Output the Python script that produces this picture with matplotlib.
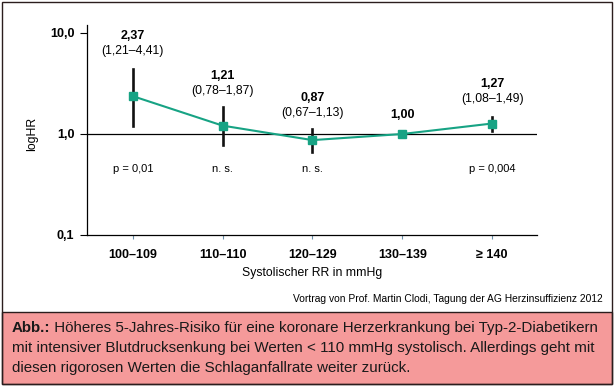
import matplotlib.pyplot as plt
from matplotlib.patches import Rectangle
from matplotlib.text import Annotation

plt.rcParams['font.family'] = ['Liberation Sans', 'DejaVu Sans']

categories = ["100–109", "110–110", "120–129", "130–139", "≥ 140"]
hr = [2.37, 1.21, 0.87, 1.00, 1.27]
ci_low = [1.21, 0.78, 0.67, None, 1.08]
ci_high = [4.41, 1.87, 1.13, None, 1.49]
hr_labels = ["2,37", "1,21", "0,87", "1,00", "1,27"]
ci_labels = ["(1,21–4,41)", "(0,78–1,87)", "(0,67–1,13)", "", "(1,08–1,49)"]
p_labels = ["p = 0,01", "n. s.", "n. s.", "", "p = 0,004"]

teal = "#17a384"

fig = plt.figure(figsize=(6.15, 3.88), dpi=100)
ax = fig.add_axes([87/615, 1 - 235/388, 450/615, 210/388])

x = list(range(len(categories)))
ax.set_yscale("log")
ax.set_ylim(0.1, 12.0)
ax.set_xlim(-0.51, 4.5)

ax.axhline(1.0, color="black", lw=0.9, zorder=1)

# error bars
for i in x:
    if ci_low[i] is not None:
        ax.plot([i, i], [ci_low[i], ci_high[i]], color="#111111", lw=1.9, zorder=2)

ax.plot(x, hr, color=teal, lw=1.5, marker="s", markersize=6.2,
        markerfacecolor=teal, markeredgecolor=teal, zorder=3)

# value labels
for i in x:
    if ci_high[i] is not None:
        top = ci_high[i]
        off = 12 if i in (0, 4) else 10
        ax.annotate(ci_labels[i], (i, top), xytext=(0, off), textcoords="offset pixels",
                    ha="center", va="bottom", fontsize=8.8)
        ax.annotate(hr_labels[i], (i, top), xytext=(0, off + 15), textcoords="offset pixels",
                    ha="center", va="bottom", fontsize=9, fontweight="bold")
    else:
        ax.annotate(hr_labels[i], (i, hr[i]), xytext=(0, 13), textcoords="offset pixels",
                    ha="center", va="bottom", fontsize=9, fontweight="bold")
    if p_labels[i]:
        ax.text(i, 0.45, p_labels[i], ha="center", va="center", fontsize=8)

ax.set_yticks([0.1, 1.0, 10.0])
ax.set_yticklabels(["0,1", "1,0", "10,0"], fontweight="bold", fontsize=9)
ax.yaxis.set_minor_locator(plt.NullLocator())
ax.set_xticks(x)
ax.set_xticklabels(categories, fontweight="bold", fontsize=9)
ax.tick_params(axis="y", length=5, width=0.8, pad=4)
ax.tick_params(axis="x", length=3, width=0.8, pad=7, color="#6b8fa8")

for s in ["top", "right"]:
    ax.spines[s].set_visible(False)
for s in ["left", "bottom"]:
    ax.spines[s].set_linewidth(0.9)

ax.set_xlabel("Systolischer RR in mmHg", fontsize=8.8, va="center")
ax.xaxis.set_label_coords(0.5, (235 - 273) / 210)
ax.set_ylabel("logHR", fontsize=8.8, va="center")
ax.yaxis.set_label_coords((32 - 87) / 450, (235 - 134) / 210)

fig.text(603/615, 1 - 299/388, "Vortrag von Prof. Martin Clodi, Tagung der AG Herzinsuffizienz 2012",
         ha="right", va="center", fontsize=7.4)

# caption box and outer frame
fig.patches.append(Rectangle((2/615, 1 - 384/388), 610/615, 72/388, transform=fig.transFigure,
                             facecolor="#f59a9a", edgecolor="#2b1d1d", lw=1.0, zorder=-2))
fig.patches.append(Rectangle((2/615, 1 - 384/388), 610/615, 382/388, transform=fig.transFigure,
                             facecolor="none", edgecolor="#2b1d1d", lw=1.0, zorder=-1))

caption = [
    "Höheres 5-Jahres-Risiko für eine koronare Herzerkrankung bei Typ-2-Diabetikern",
    "mit intensiver Blutdrucksenkung bei Werten < 110 mmHg systolisch. Allerdings geht mit",
    "diesen rigorosen Werten die Schlaganfallrate weiter zurück.",
]
cap_size = 10.9
head = fig.text(12/615, 1 - 332/388, "Abb.:", ha="left", va="baseline", fontsize=cap_size,
                fontweight="bold", color="#1a1a1a")
rest = Annotation(" " + caption[0], xy=(1, 0), xycoords=head, ha="left", va="bottom",
                  fontsize=cap_size, color="#1a1a1a")
fig.add_artist(rest)
fig.text(12/615, 1 - 352/388, caption[1], ha="left", va="baseline", fontsize=cap_size, color="#1a1a1a")
fig.text(12/615, 1 - 372/388, caption[2], ha="left", va="baseline", fontsize=cap_size, color="#1a1a1a")

fig.savefig("out.png", dpi=100)
